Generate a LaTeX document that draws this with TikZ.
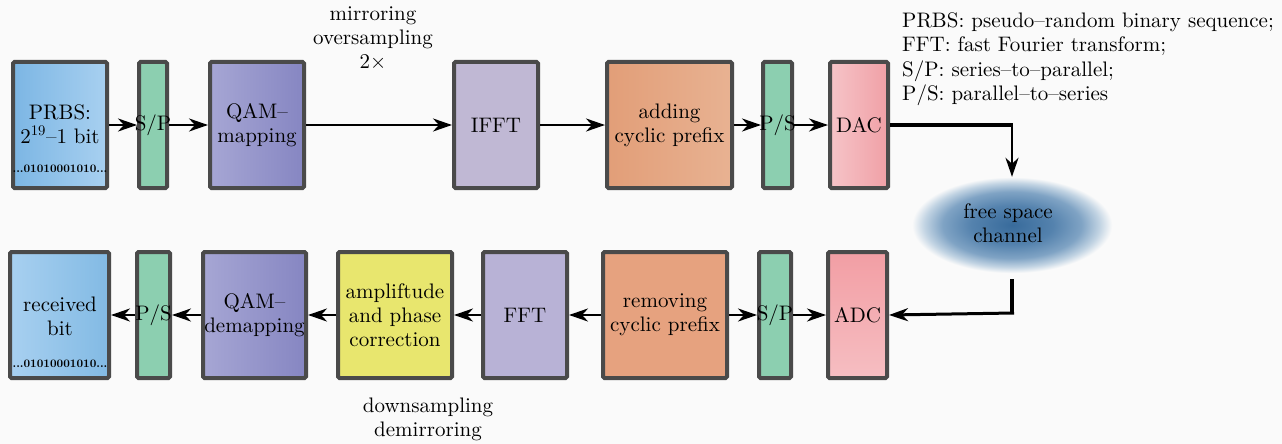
\documentclass[tikz,border=0pt]{standalone}
\usepackage{fontspec}
\setmainfont{lmroman10-regular}[Extension=.otf,BoldFont=lmroman10-bold,ItalicFont=lmroman10-italic]
\usetikzlibrary{arrows.meta,shapes.geometric}
\definecolor{bord}{HTML}{4A4A4A}
\definecolor{spg}{HTML}{8CCFB0}
\definecolor{ifftc}{HTML}{C0B8D4}
\definecolor{fftc}{HTML}{B8B2D6}
\definecolor{ampc}{HTML}{E8E66E}
\definecolor{remc}{HTML}{E6A27F}
\pgfdeclareradialshading{chshade}{\pgfpoint{0bp}{0bp}}{%
 rgb(0bp)=(0.22,0.42,0.61);
 rgb(10bp)=(0.33,0.51,0.68);
 rgb(17bp)=(0.50,0.64,0.77);
 rgb(21.5bp)=(0.76,0.83,0.89);
 rgb(24.5bp)=(0.98,0.98,0.98); rgb(50bp)=(0.98,0.98,0.98)}
\tikzset{
 blk/.style={draw=bord,line width=4pt,rounded corners=1.5pt,align=center,
   inner sep=0pt,font=\fontsize{21}{24}\selectfont},
 arr/.style={line width=2.5pt,-{Stealth[length=19pt,width=13pt,inset=6pt]}},
 lbl/.style={align=center,inner sep=0pt,font=\fontsize{21}{24}\selectfont},
 bits/.style={inner sep=0pt,font=\fontsize{11.5}{14}\selectfont\bfseries,text=black},
}
\newcommand\blk[7]{\node[blk,#6,minimum width={#4-#2-4},minimum height={#5-#3-4}] (#1) at ({(#2+#4)/2},{(#3+#5)/2}) {#7};}
\begin{document}
\begin{tikzpicture}[x=1pt,y=-1pt]
\useasboundingbox[fill=white!98!black] (0,0) rectangle (1282,444);
% top row
\blk{prbs}{11}{60}{109}{190}{left color={rgb,255:red,124;green,182;blue,228},right color={rgb,255:red,168;green,208;blue,240}}{}
\node[lbl] (prbst) at (60,124) {PRBS:\\2\textsuperscript{19}–1 bit};
\node[bits] (prbsbits) at (60,169) {...01010001010...};
\blk{sp1}{137}{60}{169}{190}{fill=spg}{}
\node[lbl] (sp1t) at (sp1) {S/P};
\blk{qam}{208}{60}{306}{190}{left color={rgb,255:red,166;green,166;blue,212},right color={rgb,255:red,134;green,134;blue,194}}{QAM–\\mapping}
\blk{ifft}{452}{60}{540}{190}{fill=ifftc}{IFFT}
\blk{add}{605}{60}{734}{190}{left color={rgb,255:red,226;green,158;blue,120},right color={rgb,255:red,232;green,178;blue,146}}{adding\\cyclic prefix}
\blk{ps1}{761}{60}{794}{190}{fill=spg}{}
\node[lbl] (ps1t) at (ps1) {P/S};
\blk{dac}{828}{60}{890}{190}{left color={rgb,255:red,246;green,196;blue,200},right color={rgb,255:red,240;green,160;blue,166}}{DAC}
% bottom row
\blk{rec}{8}{250}{111}{380}{left color={rgb,255:red,168;green,208;blue,240},right color={rgb,255:red,130;green,186;blue,228}}{}
\node[lbl] (rect) at (60,316) {received\\bit};
\node[bits] (recbits) at (60,364) {...01010001010...};
\blk{ps2}{135}{250}{172}{380}{fill=spg}{}
\node[lbl] (ps2t) at (ps2) {P/S};
\blk{qamd}{201}{250}{308}{380}{left color={rgb,255:red,166;green,166;blue,212},right color={rgb,255:red,134;green,134;blue,194}}{QAM–\\demapping}
\blk{amp}{336}{250}{454}{380}{fill=ampc}{ampliftude\\and phase\\correction}
\blk{fft}{481}{250}{569}{380}{fill=fftc}{FFT}
\blk{rem}{601}{250}{729}{380}{fill=remc}{removing\\cyclic prefix}
\blk{sp2}{757}{250}{793}{380}{fill=spg}{}
\node[lbl] (sp2t) at (sp2) {S/P};
\blk{adc}{826}{250}{889}{380}{top color={rgb,255:red,242;green,158;blue,164},bottom color={rgb,255:red,246;green,190;blue,194}}{ADC}
% channel
\node[ellipse,minimum width=204,minimum height=98,shading=chshade] (ch) at (1012,225) {};
\node[lbl] (cht) at (1008,223) {free space\\channel};
% labels
\node[lbl] (mir) at (373,38) {mirroring\\oversampling\\2$\times$};
\node[lbl] (down) at (428,419) {downsampling\\demirroring};
\node[align=left,anchor=north west,inner sep=0pt,font=\fontsize{21}{24.5}\selectfont] (leg) at (902,12)
 {PRBS: pseudo–random binary sequence;\\FFT: fast Fourier transform;\\S/P: series–to–parallel;\\P/S: parallel–to–series};
% arrows top
\draw[arr] (prbs.east) -- (sp1.west);
\draw[arr] (sp1.east) -- (qam.west);
\draw[arr] (qam.east) -- (ifft.west);
\draw[arr] (ifft.east) -- (add.west);
\draw[arr] (add.east) -- (ps1.west);
\draw[arr] (ps1.east) -- (dac.west);
\coordinate (c1) at (1012,125);
\draw[line width=4pt] (dac.east) -- ([xshift=1pt]c1);
\draw[arr] ([yshift=-1pt]c1) -- ([yshift=-1pt]ch.north);
\coordinate (c2) at (1012,313);
\draw[line width=4pt] ([yshift=-5pt]ch.south) -- ([yshift=-1pt]c2);
\draw[arr,line width=3pt] ([xshift=2pt]c2) -- (adc.east);
% arrows bottom
\draw[arr] (sp2.east) -- (adc.west);
\draw[arr] (rem.east) -- (sp2.west);
\draw[arr] (rem.west) -- (fft.east);
\draw[arr] (fft.west) -- (amp.east);
\draw[arr] (amp.west) -- (qamd.east);
\draw[arr] (qamd.west) -- (ps2.east);
\draw[arr] (ps2.west) -- (rec.east);
\end{tikzpicture}
\end{document}
